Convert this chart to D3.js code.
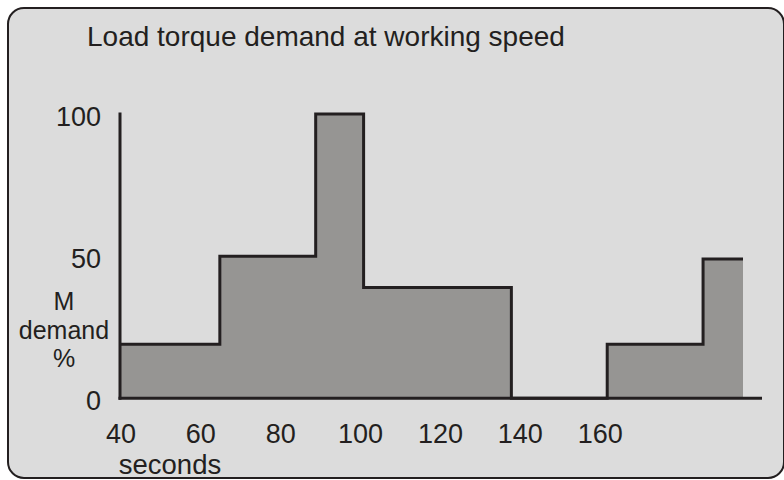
<!DOCTYPE html>
<html>
<head>
<meta charset="utf-8">
<script src="https://cdn.jsdelivr.net/npm/d3@7"></script>
<style>
  html, body { margin: 0; padding: 0; background: #ffffff; }
  svg { display: block; }
  text { font-family: "Liberation Sans", Arial, sans-serif; fill: #231f20; }
</style>
</head>
<body>
<svg id="chart" width="784" height="480"></svg>
<script>
// Time edges of each load step (seconds) and the torque demand held over each step (%)
const stepEdges = [40, 65, 89, 101, 138, 162, 186, 196];
const demand = [19, 50, 100, 39, 0, 19, 49];
const xTicks = [40, 60, 80, 100, 120, 140, 160];
const yTicks = [0, 50, 100];
const title = "Load torque demand at working speed";
const yLabelLines = ["M", "demand", "%"];
const xLabel = "seconds";

const ink = "#231f20";
const svg = d3.select("#chart");

// Panel
svg.append("rect")
  .attr("x", 8).attr("y", 8)
  .attr("width", 776).attr("height", 470)
  .attr("rx", 16).attr("ry", 16)
  .attr("fill", "#dcdcdc")
  .attr("stroke", ink).attr("stroke-width", 2);

svg.append("text")
  .attr("x", 87).attr("y", 46)
  .attr("font-size", 28)
  .text(title);

const x = d3.scaleLinear().domain([40, 196]).range([120, 743]);
const y = d3.scaleLinear().domain([0, 100]).range([398.3, 114]);

// Step points: each edge paired with the value that starts there, closed by the last value
const pts = stepEdges.map((t, i) => ({ t, v: demand[Math.min(i, demand.length - 1)] }));

const area = d3.area()
  .curve(d3.curveStepAfter)
  .x(d => x(d.t))
  .y0(y(0))
  .y1(d => y(d.v));

svg.append("path")
  .datum(pts)
  .attr("d", area)
  .attr("fill", "#969593");

const line = d3.line()
  .curve(d3.curveStepAfter)
  .x(d => x(d.t))
  .y(d => y(d.v));

svg.append("path")
  .datum(pts)
  .attr("d", line)
  .attr("fill", "none")
  .attr("stroke", ink)
  .attr("stroke-width", 3)
  .attr("stroke-linejoin", "miter");

// Axes
svg.append("line")
  .attr("x1", x(40)).attr("x2", x(40))
  .attr("y1", y(100) - 1.5).attr("y2", y(0) + 1.5)
  .attr("stroke", ink).attr("stroke-width", 3);

svg.append("line")
  .attr("x1", x(40) - 1.5).attr("x2", 762)
  .attr("y1", y(0)).attr("y2", y(0))
  .attr("stroke", ink).attr("stroke-width", 3);

// Tick labels
svg.selectAll("text.ytick")
  .data(yTicks)
  .join("text")
  .attr("class", "ytick")
  .attr("x", 101)
  .attr("y", d => y(d) + 12)
  .attr("text-anchor", "end")
  .attr("font-size", 27)
  .text(d => d);

svg.selectAll("text.xtick")
  .data(xTicks)
  .join("text")
  .attr("class", "xtick")
  .attr("x", d => x(d) + 1)
  .attr("y", 443)
  .attr("text-anchor", "middle")
  .attr("font-size", 27)
  .text(d => d);

// Axis titles
svg.append("text")
  .attr("x", 170).attr("y", 474)
  .attr("text-anchor", "middle")
  .attr("font-size", 27.5)
  .text(xLabel);

const yLabelBaselines = [310, 339, 367];
svg.selectAll("text.ylabel")
  .data(yLabelLines)
  .join("text")
  .attr("class", "ylabel")
  .attr("x", 64)
  .attr("y", (d, i) => yLabelBaselines[i])
  .attr("text-anchor", "middle")
  .attr("font-size", 25)
  .text(d => d);
</script>
</body>
</html>
